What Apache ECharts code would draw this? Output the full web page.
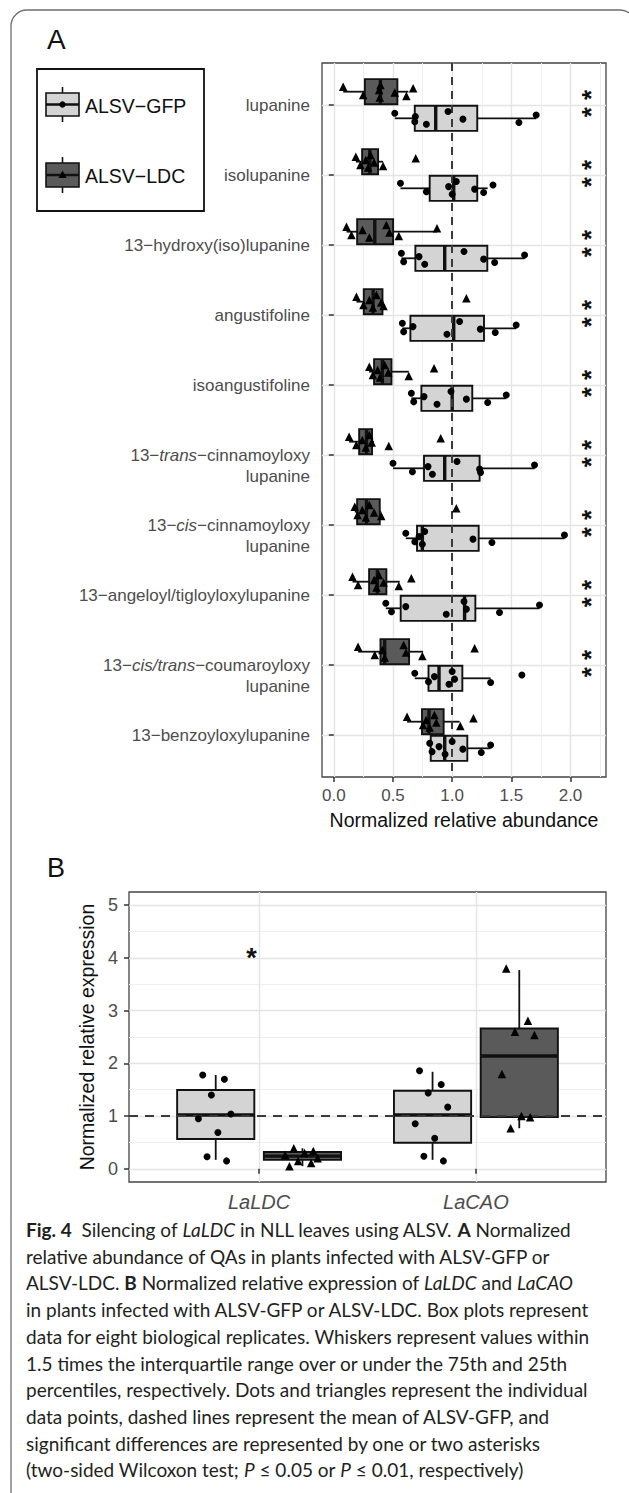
<!DOCTYPE html>
<html>
<head>
<meta charset="utf-8">
<script src="https://cdn.jsdelivr.net/npm/echarts@6/dist/echarts.min.js"></script>
<style>
html,body{margin:0;padding:0;background:#fff;}
#chart{width:629px;height:1493px;}
</style>
</head>
<body>
<div id="chart"></div>
<script>
// ---------------- DATA ----------------
// Panel A: compounds (top to bottom); {i|...} marks italic parts
const A_COMPOUNDS = [
  'lupanine',
  'isolupanine',
  '13−hydroxy(iso)lupanine',
  'angustifoline',
  'isoangustifoline',
  '13−{i|trans}−cinnamoyloxy\nlupanine',
  '13−{i|cis}−cinnamoyloxy\nlupanine',
  '13−angeloyl/tigloyloxylupanine',
  '13−{i|cis/trans}−coumaroyloxy\nlupanine',
  '13−benzoyloxylupanine'
];
const A_GROUPS = ['ALSV−GFP', 'ALSV−LDC'];
// box stats: [whisker low, Q1, median, Q3, whisker high]
const A_GFP_BOX = [
  [0.515, 0.684, 0.861, 1.212, 1.71],
  [0.563, 0.81, 1.013, 1.212, 1.30],
  [0.571, 0.689, 0.937, 1.297, 1.612],
  [0.579, 0.647, 1.013, 1.269, 1.541],
  [0.655, 0.74, 1.0, 1.17, 1.457],
  [0.50, 0.762, 0.937, 1.232, 1.696],
  [0.608, 0.703, 0.748, 1.224, 1.949],
  [0.439, 0.565, 1.105, 1.196, 1.738],
  [0.684, 0.80, 0.889, 1.086, 1.325],
  [0.81, 0.819, 0.937, 1.128, 1.325]
];
const A_LDC_BOX = [
  [0.079, 0.262, 0.394, 0.537, 0.63],
  [0.186, 0.239, 0.304, 0.374, 0.416],
  [0.107, 0.197, 0.346, 0.501, 0.872],
  [0.191, 0.253, 0.332, 0.411, 0.42],
  [0.298, 0.34, 0.41, 0.487, 0.633],
  [0.129, 0.214, 0.276, 0.323, 0.34],
  [0.177, 0.197, 0.276, 0.388, 0.40],
  [0.158, 0.298, 0.368, 0.444, 0.557],
  [0.205, 0.394, 0.43, 0.636, 0.754],
  [0.619, 0.745, 0.804, 0.928, 1.063]
];
// individual replicates
const A_GFP_PTS = [
  [0.515, 0.684, 0.689, 0.782, 0.965, 1.091, 1.564, 1.71],
  [0.563, 0.782, 0.97, 1.0, 1.035, 1.19, 1.266, 1.345],
  [0.571, 0.59, 0.72, 0.768, 1.10, 1.266, 1.359, 1.612],
  [0.579, 0.59, 0.669, 0.956, 1.063, 1.238, 1.364, 1.541],
  [0.655, 0.675, 0.762, 0.872, 0.99, 1.12, 1.30, 1.457],
  [0.50, 0.664, 0.796, 0.833, 1.041, 1.232, 1.24, 1.696],
  [0.608, 0.684, 0.72, 0.748, 0.768, 1.176, 1.336, 1.949],
  [0.439, 0.487, 0.608, 0.95, 1.10, 1.12, 1.40, 1.738],
  [0.684, 0.80, 0.85, 0.973, 1.0, 1.02, 1.325, 1.589],
  [0.81, 0.83, 0.889, 0.94, 1.0, 1.09, 1.246, 1.325]
];
const A_LDC_PTS = [
  [0.079, 0.248, 0.383, 0.388, 0.394, 0.515, 0.613, 0.670],
  [0.186, 0.225, 0.27, 0.29, 0.31, 0.34, 0.416, 0.692],
  [0.107, 0.149, 0.242, 0.30, 0.444, 0.47, 0.549, 0.872],
  [0.191, 0.25, 0.30, 0.33, 0.36, 0.40, 0.42, 1.12],
  [0.30, 0.33, 0.37, 0.39, 0.43, 0.46, 0.633, 0.847],
  [0.129, 0.19, 0.24, 0.27, 0.30, 0.32, 0.464, 0.903],
  [0.177, 0.20, 0.24, 0.27, 0.30, 0.34, 0.40, 1.035],
  [0.158, 0.205, 0.34, 0.36, 0.38, 0.42, 0.549, 0.655],
  [0.205, 0.346, 0.41, 0.43, 0.59, 0.61, 0.748, 1.19],
  [0.619, 0.754, 0.78, 0.81, 0.85, 0.866, 1.069, 1.18]
];
const A_SIGNIF = ['**', '**', '**', '**', '**', '**', '**', '**', '**', ''];
const A_X_TICKS = [0, 0.5, 1.0, 1.5, 2.0];
const A_X_MINOR = [0.25, 0.75, 1.25, 1.75, 2.25];
const A_GFP_MEAN = 1.0;

// Panel B
const B_GENES = ['LaLDC', 'LaCAO'];
const B_GFP_BOX = [[0.17, 0.565, 1.02, 1.494, 1.78], [0.17, 0.495, 1.02, 1.48, 1.84]];
const B_LDC_BOX = [[0.05, 0.17, 0.24, 0.32, 0.39], [0.77, 0.98, 2.14, 2.66, 3.77]];
const B_GFP_PTS = [[1.78, 1.70, 1.40, 1.04, 0.95, 0.69, 0.15, 0.23], [1.86, 1.60, 1.44, 1.17, 0.855, 0.58, 0.15, 0.24]];
const B_LDC_PTS = [[0.05, 0.11, 0.15, 0.20, 0.26, 0.30, 0.34, 0.39], [3.80, 2.81, 2.60, 2.54, 1.80, 1.00, 0.98, 0.77]];
const B_SIGNIF = ['*', ''];
const B_Y_TICKS = [0, 1, 2, 3, 4, 5];
const B_Y_MINOR = [0.5, 1.5, 2.5, 3.5, 4.5];
const B_GFP_MEAN = 1.0;

const CAPTION = [
  '{b|Fig. 4}  Silencing of {i|LaLDC} in NLL leaves using ALSV. {b|A} Normalized',
  'relative abundance of QAs in plants infected with ALSV-GFP or',
  'ALSV-LDC. {b|B} Normalized relative expression of {i|LaLDC} and {i|LaCAO}',
  'in plants infected with ALSV-GFP or ALSV-LDC. Box plots represent',
  'data for eight biological replicates. Whiskers represent values within',
  '1.5 times the interquartile range over or under the 75th and 25th',
  'percentiles, respectively. Dots and triangles represent the individual',
  'data points, dashed lines represent the mean of ALSV-GFP, and',
  'significant differences are represented by one or two asterisks',
  '(two-sided Wilcoxon test; {i|P} ≤ 0.05 or {i|P} ≤ 0.01, respectively)'
];

// ---------------- STYLE ----------------
const FONT = '"Liberation Sans", Arial, Helvetica, sans-serif';
const CAP_FONT = 'Lato, "Open Sans", sans-serif';
const FILLS = ['#d4d4d4', '#5a5a5a'];
const SHAPES = ['circle', 'triangle'];
const SIZES = [7, 8.5];
const DODGE_A = [0.19, -0.19];   // GFP below, LDC above (y inverted)
const DODGE_B = [-0.2, 0.2];
const HALF_A = 0.18, HALF_B = 0.178;
const JIT = [-0.06, 0.04, -0.02, 0.07, -0.08, 0.01, 0.05, -0.04];
const AXIS_TXT = '#4d4d4d';
const GRID_MAJ = {color: '#e4e4e4', width: 1.4};
const GRID_MIN = {color: '#eeeeee', width: 1};
const TICK = {color: '#333', width: 1.5};

function boxRenderer(horizontal, dodge, half) {
  return function (params, api) {
    const cat = api.value(0), g = api.value(1);
    const c = cat + dodge[g];
    const v = [2, 3, 4, 5, 6].map(i => api.value(i));
    const P = (val, d) => horizontal ? api.coord([val, c + d]) : api.coord([c + d, val]);
    const a = P(v[0], 0), b = P(v[1], 0), d = P(v[3], 0), e = P(v[4], 0);
    const r1 = P(v[1], -half), r2 = P(v[3], half);
    const m1 = P(v[2], -half), m2 = P(v[2], half);
    const ln = {stroke: '#111', lineWidth: 1.8};
    return {type: 'group', children: [
      {type: 'line', shape: {x1: a[0], y1: a[1], x2: b[0], y2: b[1]}, style: ln},
      {type: 'line', shape: {x1: d[0], y1: d[1], x2: e[0], y2: e[1]}, style: ln},
      {type: 'rect', shape: {x: Math.min(r1[0], r2[0]), y: Math.min(r1[1], r2[1]),
        width: Math.abs(r2[0] - r1[0]), height: Math.abs(r2[1] - r1[1])},
        style: {fill: FILLS[g], stroke: '#111', lineWidth: 1.9}},
      {type: 'line', shape: {x1: m1[0], y1: m1[1], x2: m2[0], y2: m2[1]}, style: {stroke: '#111', lineWidth: 3.4}}
    ]};
  };
}

// stacked asterisks drawn as one rotated string so the two glyphs never collide
function signifRenderer(list, fontSize, rotated) {
  return function (params, api) {
    const p = api.coord([api.value(0), api.value(1)]);
    const txt = list[params.dataIndex];
    if (!txt) return null;
    return {type: 'text', x: p[0], y: p[1], rotation: rotated ? Math.PI / 2 : 0, style: {
      text: rotated ? txt.split('').join(' ') : txt, fill: '#111', fontSize: fontSize, fontFamily: FONT,
      fontWeight: 'bold', align: 'center', verticalAlign: 'middle'}};
  };
}

const A_ROWS = A_COMPOUNDS.map((_, i) => i + 1);
const B_POS = B_GENES.map((_, i) => i + 1);

function aLabel(v) {
  const s = A_COMPOUNDS[Math.round(v) - 1] || '';
  return s.indexOf('\n') >= 0 ? ' \n' + s : s;
}

const series = [];
// Panel A boxes
series.push({
  type: 'custom', xAxisIndex: 0, yAxisIndex: 0, z: 2, silent: true,
  renderItem: boxRenderer(true, DODGE_A, HALF_A),
  encode: {x: [2, 3, 4, 5, 6], y: 0},
  data: A_GFP_BOX.map((s, i) => [A_ROWS[i], 0].concat(s)).concat(A_LDC_BOX.map((s, i) => [A_ROWS[i], 1].concat(s)))
});
// Panel A mean line
series.push({
  type: 'scatter', xAxisIndex: 0, yAxisIndex: 0, z: 4, data: [], silent: true,
  markLine: {silent: true, symbol: 'none', label: {show: false}, animation: false,
    lineStyle: {type: [8, 6], color: '#3a3a3a', width: 2}, data: [{xAxis: A_GFP_MEAN}]}
});
// Panel A points
[A_GFP_PTS, A_LDC_PTS].forEach((pts, g) => {
  series.push({
    name: A_GROUPS[g], type: 'scatter', xAxisIndex: 0, yAxisIndex: 0, z: 5, silent: true,
    symbol: SHAPES[g], symbolSize: SIZES[g], itemStyle: {color: '#000', opacity: 1},
    data: pts.flatMap((arr, i) => arr.map((v, j) => [v, A_ROWS[i] + DODGE_A[g] + JIT[j] * 1.2]))
  });
});
// Panel A significance
series.push({
  type: 'custom', xAxisIndex: 0, yAxisIndex: 0, z: 6, silent: true,
  renderItem: signifRenderer(A_SIGNIF, 26, true),
  data: A_ROWS.map(r => [2.17, r - 0.02])
});
// Panel B boxes
series.push({
  type: 'custom', xAxisIndex: 2, yAxisIndex: 1, z: 2, silent: true,
  renderItem: boxRenderer(false, DODGE_B, HALF_B),
  encode: {y: [2, 3, 4, 5, 6], x: 0},
  data: B_GFP_BOX.map((s, i) => [B_POS[i], 0].concat(s)).concat(B_LDC_BOX.map((s, i) => [B_POS[i], 1].concat(s)))
});
series.push({
  type: 'scatter', xAxisIndex: 2, yAxisIndex: 1, z: 4, data: [], silent: true,
  markLine: {silent: true, symbol: 'none', label: {show: false}, animation: false,
    lineStyle: {type: [9, 7], color: '#3a3a3a', width: 2}, data: [{yAxis: B_GFP_MEAN}]}
});
[B_GFP_PTS, B_LDC_PTS].forEach((pts, g) => {
  series.push({
    name: A_GROUPS[g] + ' (B)', type: 'scatter', xAxisIndex: 2, yAxisIndex: 1, z: 5, silent: true,
    symbol: SHAPES[g], symbolSize: SIZES[g], itemStyle: {color: '#000', opacity: 1},
    data: pts.flatMap((arr, i) => arr.map((v, j) => [B_POS[i] + DODGE_B[g] + JIT[j], v]))
  });
});
series.push({
  type: 'custom', xAxisIndex: 2, yAxisIndex: 1, z: 6, silent: true,
  renderItem: signifRenderer(B_SIGNIF, 27, false),
  data: B_POS.map(p => [p - 0.035, 4.0])
});

const capGraphics = CAPTION.map((t, i) => ({
  type: 'text', left: 26, top: 1220 + i * 26.7, silent: true,
  style: {text: t, fill: '#231f20', fontSize: 19, fontFamily: CAP_FONT,
    rich: {
      b: {fontWeight: 'bold', fontSize: 19, fontFamily: CAP_FONT, fill: '#231f20'},
      i: {fontStyle: 'italic', fontSize: 19, fontFamily: CAP_FONT, fill: '#231f20'}
    }}
}));

const legendGraphic = {
  type: 'group', silent: true, children: [
    {type: 'rect', shape: {x: 37, y: 69, width: 167, height: 142}, style: {fill: '#fff', stroke: '#111', lineWidth: 1.8}},
    {type: 'line', shape: {x1: 62.5, y1: 87, x2: 62.5, y2: 122}, style: {stroke: '#111', lineWidth: 1.6}},
    {type: 'rect', shape: {x: 46, y: 93, width: 33, height: 23}, style: {fill: FILLS[0], stroke: '#111', lineWidth: 1.6}},
    {type: 'line', shape: {x1: 46, y1: 104.5, x2: 79, y2: 104.5}, style: {stroke: '#111', lineWidth: 2.6}},
    {type: 'circle', shape: {cx: 62.5, cy: 104.5, r: 3.2}, style: {fill: '#000'}},
    {type: 'text', x: 85, y: 106, style: {text: A_GROUPS[0], fontSize: 19.5, fontFamily: FONT, fill: '#111', verticalAlign: 'middle'}},
    {type: 'line', shape: {x1: 62.5, y1: 157, x2: 62.5, y2: 193}, style: {stroke: '#111', lineWidth: 1.6}},
    {type: 'rect', shape: {x: 46, y: 163, width: 33, height: 24}, style: {fill: FILLS[1], stroke: '#111', lineWidth: 1.6}},
    {type: 'line', shape: {x1: 46, y1: 175, x2: 79, y2: 175}, style: {stroke: '#111', lineWidth: 2.6}},
    {type: 'polygon', shape: {points: [[62.5, 170.5], [58.3, 178], [66.7, 178]]}, style: {fill: '#000'}},
    {type: 'text', x: 85, y: 176, style: {text: A_GROUPS[1], fontSize: 19.5, fontFamily: FONT, fill: '#111', verticalAlign: 'middle'}}
  ]
};

const option = {
  animation: false,
  backgroundColor: '#fff',
  graphic: {elements: [
    {type: 'rect', silent: true, shape: {x: 11, y: 10, width: 625, height: 1500, r: 16},
      style: {fill: 'none', stroke: '#6e6e6e', lineWidth: 1.3}, z: -10},
    {type: 'text', x: 47, y: 39, silent: true, style: {text: 'A', fontSize: 28, fontFamily: FONT, fill: '#111', verticalAlign: 'middle'}},
    {type: 'text', x: 47, y: 868, silent: true, style: {text: 'B', fontSize: 27, fontFamily: FONT, fill: '#111', verticalAlign: 'middle'}},
    legendGraphic
  ].concat(capGraphics)},
  grid: [
    {left: 322, top: 63, width: 284, height: 714, show: true, borderColor: '#444', borderWidth: 1.3, backgroundColor: '#fff', containLabel: false},
    {left: 129, top: 892, width: 477, height: 290, show: true, borderColor: '#444', borderWidth: 1.3, backgroundColor: '#fff', containLabel: false}
  ],
  xAxis: [
    {gridIndex: 0, type: 'value', min: -0.1, max: 2.3,
      axisLine: {show: false},
      axisTick: {show: true, customValues: A_X_TICKS, length: 5, lineStyle: TICK},
      axisLabel: {customValues: A_X_TICKS, formatter: v => Number(v).toFixed(1), color: AXIS_TXT, fontSize: 17, fontFamily: FONT, margin: 10},
      splitLine: {show: true, lineStyle: GRID_MAJ},
      name: 'Normalized relative abundance', nameLocation: 'middle', nameGap: 33,
      nameTextStyle: {color: '#111', fontSize: 19.5, fontFamily: FONT}},
    {gridIndex: 0, type: 'value', min: -0.1, max: 2.3, position: 'top',
      axisLine: {show: false}, axisLabel: {show: false},
      axisTick: {show: false, customValues: A_X_MINOR},
      splitLine: {show: true, lineStyle: GRID_MIN}},
    {gridIndex: 1, type: 'value', min: 0.4, max: 2.6,
      axisLine: {show: false},
      axisTick: {show: true, customValues: B_POS, length: 5, lineStyle: TICK},
      axisLabel: {customValues: B_POS, formatter: v => B_GENES[Math.round(v) - 1] || '', color: AXIS_TXT, fontSize: 20, fontStyle: 'italic', fontFamily: FONT, margin: 10},
      splitLine: {show: true, lineStyle: GRID_MAJ}}
  ],
  yAxis: [
    {gridIndex: 0, type: 'value', inverse: true, min: 0.4, max: 10.6,
      axisLine: {show: false},
      axisTick: {show: true, customValues: A_ROWS, length: 5, lineStyle: TICK},
      axisLabel: {customValues: A_ROWS, formatter: aLabel, color: AXIS_TXT, fontSize: 17, fontFamily: FONT, margin: 12, lineHeight: 21,
        rich: {i: {fontStyle: 'italic', color: AXIS_TXT, fontSize: 17, fontFamily: FONT, lineHeight: 21}}},
      splitLine: {show: true, lineStyle: GRID_MAJ}},
    {gridIndex: 1, type: 'value', min: -0.25, max: 5.25,
      axisLine: {show: false},
      axisTick: {show: true, customValues: B_Y_TICKS, length: 5, lineStyle: TICK},
      axisLabel: {customValues: B_Y_TICKS, formatter: v => String(v), color: AXIS_TXT, fontSize: 18, fontFamily: FONT, margin: 11},
      splitLine: {show: true, lineStyle: GRID_MAJ},
      name: 'Normalized relative expression', nameLocation: 'middle', nameGap: 30, nameRotate: 90,
      nameTextStyle: {color: '#111', fontSize: 19.5, fontFamily: FONT}},
    {gridIndex: 1, type: 'value', min: -0.25, max: 5.25, position: 'right',
      axisLine: {show: false}, axisLabel: {show: false},
      axisTick: {show: false, customValues: B_Y_MINOR},
      splitLine: {show: true, lineStyle: GRID_MIN}}
  ],
  series: series
};

const chart = echarts.init(document.getElementById('chart'), null, {renderer: 'svg', width: 629, height: 1493});
chart.setOption(option);
</script>
</body>
</html>
